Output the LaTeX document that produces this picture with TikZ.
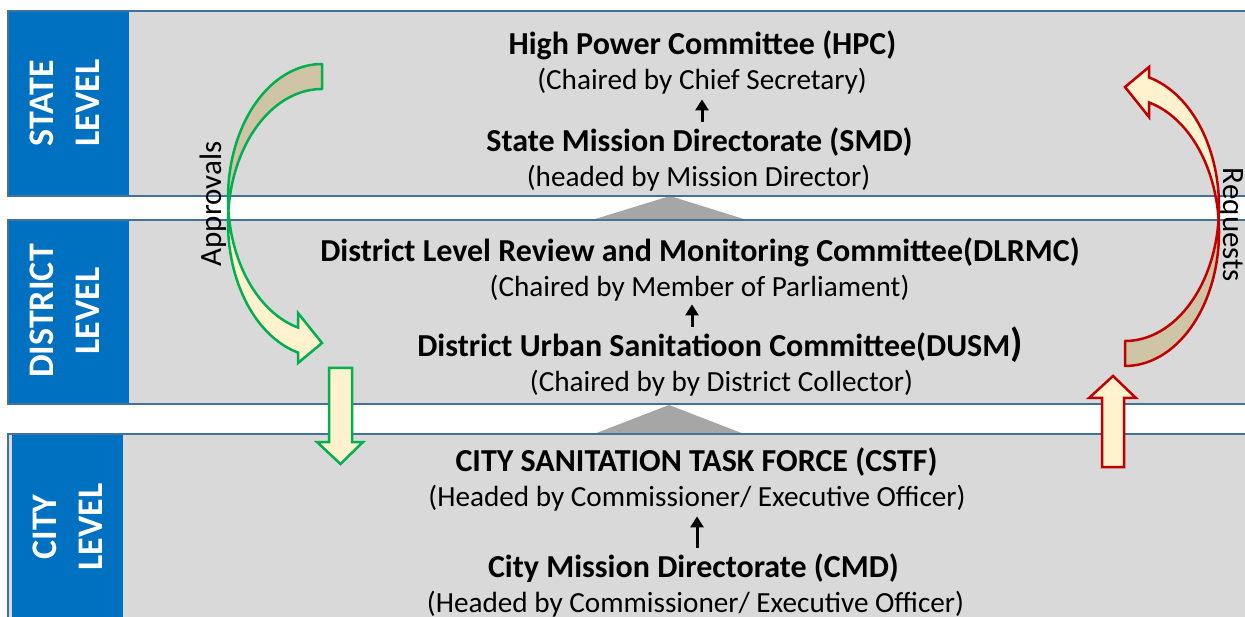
\documentclass[tikz,border=0pt]{standalone}
\usepackage{fontspec}
\setmainfont{Carlito}
\usetikzlibrary{arrows.meta}
\definecolor{bandgray}{HTML}{D9D9D9}
\definecolor{bandline}{HTML}{41719C}
\definecolor{lvlblue}{HTML}{0070C0}
\definecolor{trigray}{HTML}{A6A6A6}
\definecolor{agreen}{HTML}{00B050}
\definecolor{ared}{HTML}{C00000}
\definecolor{ylw}{HTML}{FFF2CC}
\definecolor{tanc}{HTML}{CFC4A5}
\newcommand\CurvArr[1]{%
  \draw[#1, line width=2.5pt, fill=tanc, line join=round]
    plot[domain=270:174.65, variable=\t, samples=50, smooth] ({322+94*cos(\t)},{198+134*sin(\t)})
    -- plot[domain=185.35:270, variable=\t, samples=50, smooth] ({322+94*cos(\t)},{223+134*sin(\t)})
    -- cycle;
  \draw[#1, line width=2.5pt, fill=ylw, line join=miter]
    plot[domain=174.65:104.79, variable=\t, samples=50, smooth] ({322+94*cos(\t)},{198+134*sin(\t)})
    -- (298,313) -- (322,343) -- (298,363)
    -- plot[domain=104.79:185.35, variable=\t, samples=50, smooth] ({322+94*cos(\t)},{223+134*sin(\t)})
    -- cycle;
}
\begin{document}
\begin{tikzpicture}[x=1pt,y=-1pt,
  bandfill/.style={fill=bandgray},
  bandedge/.style={draw=bandline, line width=2pt},
  lvlbox/.style={fill=lvlblue},
  lvltext/.style={rotate=90, text=white, font=\fontsize{36}{46}\selectfont\bfseries, align=center, inner sep=0pt},
  ttl/.style={anchor=base, inner sep=0pt, font=\fontsize{32}{36}\selectfont\bfseries},
  subt/.style={anchor=base, inner sep=0pt, font=\fontsize{29.2}{32}\selectfont},
  sidelbl/.style={inner sep=0pt, font=\fontsize{31}{34}\selectfont},
  sarrow/.style={-{Triangle[width=13pt,length=11pt]}, line width=3pt},
  blockarrow/.style={line width=2.5pt, fill=ylw, line join=miter},
  tri/.style={fill=trigray}]
\useasboundingbox (0,0) rectangle (1245,617);
\clip (0,0) rectangle (1245,617);
\fill[white] (0,0) rectangle (1245,617);
% triangles between bands
\fill[tri] (592,220) -- (670,196) -- (747,220) -- cycle;
\fill[tri] (594,434) -- (669,405) -- (744,434) -- cycle;
% bands
\fill[bandfill] (8,11) rectangle (1260,196);
\fill[lvlbox] (8,11) rectangle (129,196);
\draw[bandedge] (8,11) rectangle (1260,196);
\fill[bandfill] (8,220) rectangle (1260,404);
\fill[lvlbox] (8,220) rectangle (129,404);
\draw[bandedge] (8,220) rectangle (1260,404);
\fill[bandfill] (8,434) rectangle (1260,630);
\fill[lvlbox] (12,435) rectangle (123,630);
\draw[bandedge] (8,434) rectangle (1260,630);
% level labels
\node[lvltext] (lstate) at (65,103) {STATE\\LEVEL};
\node[lvltext] (ldistrict) at (65,311) {DISTRICT\\LEVEL};
\node[lvltext] (lcity) at (68,527) {CITY\\LEVEL};
% texts
\node[ttl] (hpc) at (702.5,54.5) {High Power Committee (HPC)};
\node[subt] (hpcsub) at (702,89.5) {(Chaired by Chief Secretary)};
\node[ttl] (smd) at (699.5,151.5) {State Mission Directorate (SMD)};
\node[subt] (smdsub) at (698.5,186.5) {(headed by Mission Director)};
\node[ttl] (dlrmc) at (700,261.5) {District Level Review and Monitoring Committee(DLRMC)};
\node[subt] (dlrmcsub) at (699.5,296.5) {(Chaired by Member of Parliament)};
\node[ttl] (dusm) at (720,356.5) {District Urban Sanitatioon Committee(DUSM{\fontsize{40}{40}\selectfont)}};
\node[subt] (dusmsub) at (721.5,391.5) {(Chaired by by District Collector)};
\node[ttl] (cstf) at (696.5,471.5) {CITY SANITATION TASK FORCE (CSTF)};
\node[subt] (cstfsub) at (697,506.5) {(Headed by Commissioner/ Executive Officer)};
\node[ttl] (cmd) at (693.5,577.5) {City Mission Directorate (CMD)};
\node[subt] (cmdsub) at (695.5,612.5) {(Headed by Commissioner/ Executive Officer)};
% small arrows
\draw[sarrow, shorten <=6pt, shorten >=5pt] (smd.north -| 702,0) -- (hpcsub.south -| 702,0);
\draw[sarrow, shorten <=0pt, shorten >=3pt] (dusm.north -| 692,0) -- (dlrmcsub.south -| 692,0);
\draw[sarrow, shorten <=6pt, shorten >=5pt] (cmd.north -| 697,0) -- (cstfsub.south -| 697,0);
% side labels
\node[sidelbl, rotate=90] (appr) at (213,204) {Approvals};
\node[sidelbl, rotate=-90] (req) at (1231,225) {Requests};
% curved arrows
\CurvArr{agreen}
\begin{scope}[rotate around={180:(723.5,215)}]
\CurvArr{ared}
\end{scope}
% block arrows
\draw[blockarrow, draw=agreen] (329,368) -- (352,368) -- (352,442) -- (363,442) -- (340.5,464) -- (317,442) -- (329,442) -- cycle;
\draw[blockarrow, draw=ared] (1102,467) -- (1124,467) -- (1124,398) -- (1136,398) -- (1113,376) -- (1089,398) -- (1102,398) -- cycle;
\end{tikzpicture}
\end{document}
